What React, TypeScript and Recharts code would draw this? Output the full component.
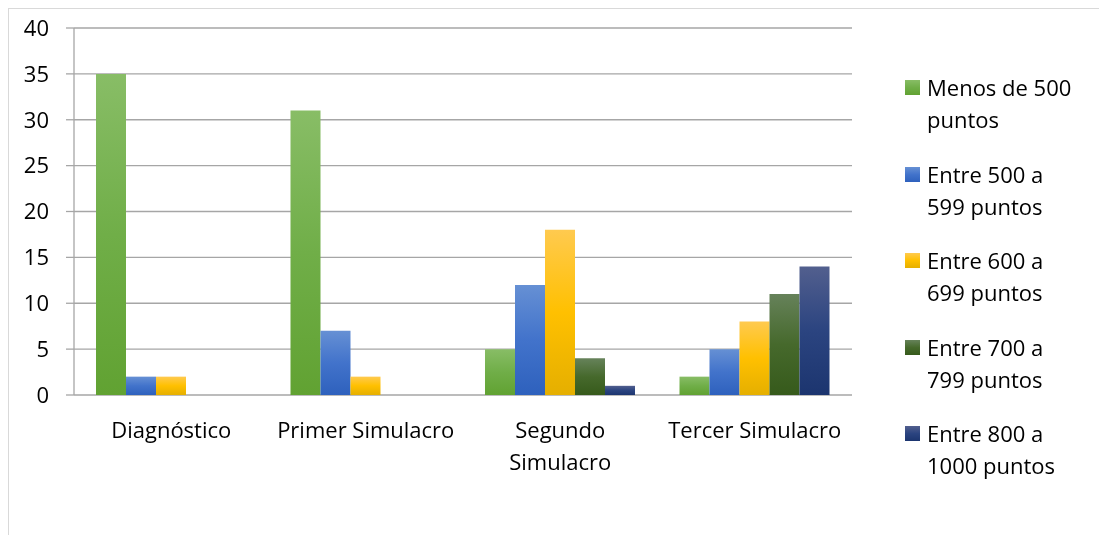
import React from "react";
import { BarChart, Bar, XAxis, YAxis, CartesianGrid } from "recharts";

const categories = ["Diagnóstico", "Primer Simulacro", "Segundo Simulacro", "Tercer Simulacro"];
const seriesNames = [
  "Menos de 500 puntos",
  "Entre 500 a 599 puntos",
  "Entre 600 a 699 puntos",
  "Entre 700 a 799 puntos",
  "Entre 800 a 1000 puntos",
];
const menos500 = [35, 31, 5, 2];
const entre500 = [2, 7, 12, 5];
const entre600 = [2, 2, 18, 8];
const entre700 = [0, 0, 4, 11];
const entre800 = [0, 0, 1, 14];
const yTicks = [0, 5, 10, 15, 20, 25, 30, 35, 40];
const boundaryTicks = [0, 1, 2, 3, 4];

const seriesValues = [menos500, entre500, entre600, entre700, entre800];

// top / middle / bottom colours of each bar gradient
const gradients = [
  ["#88bd66", "#70ae48", "#61a232"],
  ["#6690d4", "#4273cb", "#2e61bd"],
  ["#ffca4f", "#ffc000", "#e5af00"],
  ["#66825a", "#46692c", "#365a1b"],
  ["#525f8e", "#2b4480", "#1c356f"],
];

const data = categories.map((name, i) => {
  const row: Record<string, string | number> = { name };
  seriesNames.forEach((s, j) => {
    row[s] = seriesValues[j][i];
  });
  return row;
});

const FONT = "'Open Sans', sans-serif";
const FS = 22;
const GRID = "#a6a6a6";

function CategoryTick(props: any) {
  const { x, y, payload } = props;
  const label: string = payload.value;
  const lines = label.length > 16 ? label.split(" ") : [label];
  return (
    <text x={x} y={y} textAnchor="middle" fontFamily={FONT} fontSize={FS} fill="#000">
      {lines.map((l, i) => (
        <tspan key={i} x={x} dy={i === 0 ? 43 : 32}>
          {l}
        </tspan>
      ))}
    </text>
  );
}

function LegendBox() {
  return (
    <div style={{ position: "absolute", left: 896, top: 62, fontFamily: FONT, fontSize: FS, color: "#000" }}>
      {seriesNames.map((s, i) => (
        <div key={s} style={{ position: "relative", height: 86.5, paddingLeft: 22 }}>
          <svg width={15} height={15} style={{ position: "absolute", left: 0, top: 9 }}>
            <defs>
              <linearGradient id={`lg${i}`} x1="0" y1="0" x2="0" y2="1">
                <stop offset="0%" stopColor={gradients[i][0]} />
                <stop offset="50%" stopColor={gradients[i][1]} />
                <stop offset="100%" stopColor={gradients[i][2]} />
              </linearGradient>
            </defs>
            <rect width={15} height={15} fill={`url(#lg${i})`} />
          </svg>
          <div style={{ width: 154, lineHeight: "32px" }}>{s}</div>
        </div>
      ))}
    </div>
  );
}

export default function App() {
  return (
    <div
      style={{
        position: "fixed",
        left: 8,
        top: 8,
        width: 1100,
        height: 540,
        borderTop: "1px solid #d9d9d9",
        borderLeft: "1px solid #d9d9d9",
        boxSizing: "border-box",
      }}
    >
      <BarChart
        width={1090}
        height={525}
        data={data}
        margin={{ top: 19, right: 247, bottom: 0, left: 0 }}
        barCategoryGap={22}
        barGap={0}
      >
        <defs>
          {gradients.map((g, i) => (
            <linearGradient key={i} id={`bg${i}`} x1="0" y1="0" x2="0" y2="1">
              <stop offset="0%" stopColor={g[0]} />
              <stop offset="50%" stopColor={g[1]} />
              <stop offset="100%" stopColor={g[2]} />
            </linearGradient>
          ))}
        </defs>
        <CartesianGrid vertical={false} stroke={GRID} strokeWidth={1.3} />
        <XAxis
          xAxisId="edges"
          type="number"
          domain={[0, 4]}
          ticks={boundaryTicks}
          height={0}
          tick={false}
          tickSize={8}
          axisLine={{ stroke: GRID, strokeWidth: 1.3 }}
          tickLine={{ stroke: GRID, strokeWidth: 1.3 }}
        />
        <XAxis
          xAxisId="cat"
          dataKey="name"
          axisLine={false}
          tickLine={false}
          tickSize={0}
          tickMargin={0}
          height={139}
          interval={0}
          tick={<CategoryTick />}
        />
        <YAxis
          width={65}
          domain={[0, 40]}
          ticks={yTicks}
          interval={0}
          tickSize={8}
          tickMargin={17}
          axisLine={{ stroke: GRID, strokeWidth: 1.3 }}
          tickLine={{ stroke: GRID, strokeWidth: 1.3 }}
          tick={{ fontFamily: FONT, fontSize: FS, fill: "#000" }}
        />
        {seriesNames.map((s, i) => (
          <Bar
            key={s}
            xAxisId="cat"
            dataKey={s}
            fill={`url(#bg${i})`}
            isAnimationActive={false}
          />
        ))}
      </BarChart>
      <LegendBox />
    </div>
  );
}
